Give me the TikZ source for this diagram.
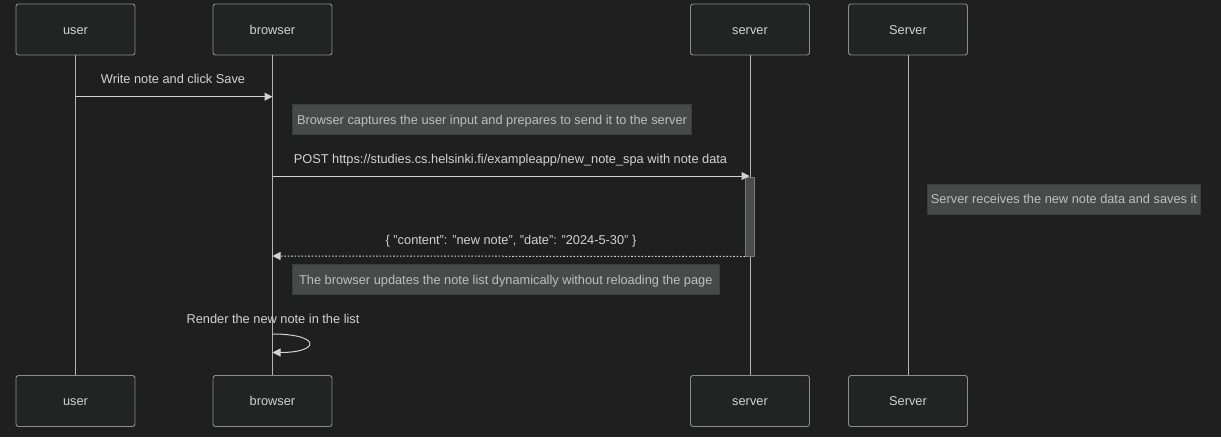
\documentclass[tikz,border=0pt]{standalone}
\usepackage{fontspec}
\setmainfont{Liberation Sans}
\usetikzlibrary{arrows.meta}
\definecolor{bgcol}{HTML}{1F1F1F}
\definecolor{actorfill}{HTML}{222323}
\definecolor{actorline}{HTML}{8C8C8C}
\definecolor{lifeline}{HTML}{B4B4B4}
\definecolor{msgcol}{HTML}{D2D2D2}
\definecolor{notefill}{HTML}{484A49}
\definecolor{noteline}{HTML}{3C3D3D}
\definecolor{notetext}{HTML}{BEBEBE}
\definecolor{actfill}{HTML}{4A4B4B}
\definecolor{actline}{HTML}{7A7A7A}
\tikzset{
  labelfont/.style={font=\fontsize{12.8}{14}\selectfont},
  actor/.style={draw=actorline, fill=actorfill, line width=0.9pt, rounded corners=2.5pt,
    minimum width=119pt, minimum height=51pt, inner sep=0pt,
    text height=11.6pt, text depth=2pt, text=msgcol, labelfont},
  life/.style={draw=lifeline, line width=1pt},
  msg/.style={draw=msgcol, line width=1pt, -{Triangle[length=8pt,width=8pt]}},
  reply/.style={msg, dash pattern=on 1.6pt off 1.8pt},
  msglabel/.style={text=msgcol, labelfont, inner sep=0pt, anchor=base},
  notebox/.style={draw=noteline, fill=notefill, line width=0.8pt, inner sep=0pt,
    text height=11.4pt, text depth=2.2pt, minimum height=30pt,
    text=notetext, labelfont},
  actbar/.style={draw=actline, fill=actfill, line width=1pt, inner sep=0pt}
}
\begin{document}
\begin{tikzpicture}[x=1pt,y=-1pt]
\fill[bgcol] (0,0) rectangle (1221,437);
\useasboundingbox (0,0) rectangle (1221,437);

% participants, top and bottom
\node[actor] (userT)    at (75.5,29.5)  {user};
\node[actor] (browserT) at (272.5,29.5) {browser};
\node[actor] (serverT)  at (750,29.5)   {server};
\node[actor] (ServerT)  at (908,29.5)   {Server};
\node[actor] (userB)    at (75.5,401)   {user};
\node[actor] (browserB) at (272.5,401)  {browser};
\node[actor] (serverB)  at (750,401)    {server};
\node[actor] (ServerB)  at (908,401)    {Server};

% lifelines
\draw[life] (userT.south) -- (userB.north);
\draw[life] (browserT.south) -- (browserB.north);
\draw[life] (serverT.south) -- (serverB.north);
\draw[life] (ServerT.south) -- (ServerB.north);

% activation of the server
\node[actbar, minimum width=9pt, minimum height=79pt] (act) at (750,216.5) {};

% points on the lifelines where messages start and end
\coordinate (u1) at (75.5,96.7);
\coordinate (b1) at (272.5,96.7);
\coordinate (b2) at (272.5,176);
\coordinate (s2) at (749.5,176);
\coordinate (b3) at (272.5,256);
\coordinate (b4) at (272.5,334);
\coordinate (b5) at (272.5,352.5);

% user writes note
\draw[msg] (u1) -- (b1);
\node[msglabel] (l1) at (173,83.3) {Write note and click Save};

\node[notebox, minimum width=399.5pt] (n1) at (492,119.7)
  {Browser captures the user input and prepares to send it to the server};

% POST to the server
\draw[msg] (b2) -- (s2);
\node[msglabel] (l2) at (510.5,163.3) {POST https://studies.cs.helsinki.fi/exampleapp/new\_note\_spa with note data};

\node[notebox, minimum width=272.5pt] (n2) at (1064,199.3)
  {Server receives the new note data and saves it};

% reply with the note
\draw[reply] (act.south west) -- (b3);
\node[msglabel] (l3) at (511,244) {\{ "content": "new note", "date": "2024-5-30" \}};

\node[notebox, minimum width=426.5pt] (n3) at (505.8,279.5)
  {The browser updates the note list dynamically without reloading the page};

% browser renders the note
\node[msglabel] (l4) at (273,323.3) {Render the new note in the list};
\draw[msg] (b4) .. controls (321,334) and (321,352.5) .. (b5);
\end{tikzpicture}
\end{document}
